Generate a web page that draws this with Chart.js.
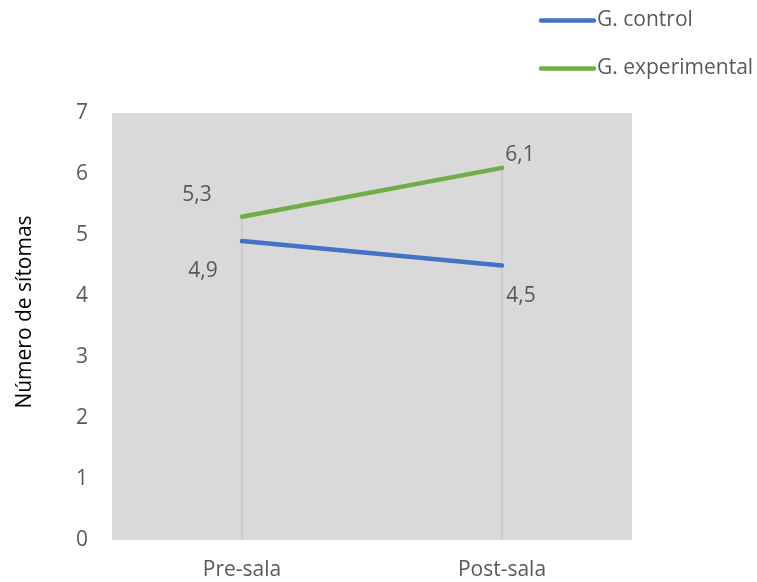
<!DOCTYPE html>
<html>
<head>
<meta charset="utf-8">
<script src="https://cdn.jsdelivr.net/npm/chart.js@4/dist/chart.umd.min.js"></script>
<style>
  html, body { margin: 0; padding: 0; background: #ffffff; }
  #wrap { width: 757px; height: 582px; position: relative; }
</style>
</head>
<body>
<div id="wrap"><canvas id="c" width="757" height="582"></canvas></div>
<script>
// ---- data ----
const categories = ['Pre-sala', 'Post-sala'];
const seriesNames = ['G. control', 'G. experimental'];
const controlValues = [4.9, 4.5];
const experimentalValues = [5.3, 6.1];
const yTicks = [0, 1, 2, 3, 4, 5, 6, 7];
const yTitle = 'Número de sítomas';

// ---- styles ----
const FONT = '"Open Sans", "DejaVu Sans", sans-serif';
const FS = 21;
const TEXT = '#595959';
const colors = ['#4472C4', '#70AD47'];
// label offsets (dx, dy) per dataset per point, in pixels
const labelOffsets = [
  [[-39, 30], [19, 31]],
  [[-45, -22], [18, -13]]
];

const bgPlugin = {
  id: 'plotBg',
  beforeDraw(chart) {
    const { ctx, chartArea: a } = chart;
    ctx.save();
    ctx.fillStyle = '#D9D9D9';
    ctx.fillRect(a.left, a.top, a.right - a.left, a.bottom - a.top);
    ctx.restore();
  }
};

const dropLines = {
  id: 'dropLines',
  beforeDatasetsDraw(chart) {
    const { ctx, chartArea: a, scales } = chart;
    ctx.save();
    ctx.strokeStyle = '#C8C8C8';
    ctx.lineWidth = 1.5;
    categories.forEach((c, i) => {
      const maxV = Math.max(...chart.data.datasets.map(d => d.data[i]));
      const x = scales.x.getPixelForValue(i);
      const y = scales.y.getPixelForValue(maxV);
      ctx.beginPath();
      ctx.moveTo(x, y);
      ctx.lineTo(x, a.bottom);
      ctx.stroke();
    });
    ctx.restore();
  }
};

const dataLabels = {
  id: 'dataLabels',
  afterDatasetsDraw(chart) {
    const { ctx } = chart;
    ctx.save();
    ctx.font = FS + 'px ' + FONT;
    ctx.fillStyle = TEXT;
    ctx.textAlign = 'center';
    ctx.textBaseline = 'middle';
    chart.data.datasets.forEach((ds, di) => {
      const meta = chart.getDatasetMeta(di);
      meta.data.forEach((pt, i) => {
        const off = labelOffsets[di][i];
        const txt = String(ds.data[i]).replace('.', ',');
        ctx.fillText(txt, pt.x + off[0], pt.y + off[1]);
      });
    });
    ctx.restore();
  }
};

const yTitlePlugin = {
  id: 'yTitle',
  afterDraw(chart) {
    const { ctx } = chart;
    ctx.save();
    ctx.font = FS + 'px ' + FONT;
    ctx.fillStyle = '#000000';
    ctx.textAlign = 'center';
    ctx.textBaseline = 'middle';
    ctx.translate(25, 312);
    ctx.rotate(-Math.PI / 2);
    ctx.fillText(yTitle, 0, 0);
    ctx.restore();
  }
};

const legendPlugin = {
  id: 'customLegend',
  afterDraw(chart) {
    const { ctx } = chart;
    ctx.save();
    ctx.font = FS + 'px ' + FONT;
    ctx.textBaseline = 'middle';
    ctx.textAlign = 'left';
    chart.data.datasets.forEach((ds, i) => {
      const y = 20.5 + i * 48;
      ctx.strokeStyle = ds.borderColor;
      ctx.lineWidth = 4.5;
      ctx.lineCap = 'round';
      ctx.beginPath();
      ctx.moveTo(541, y);
      ctx.lineTo(594, y);
      ctx.stroke();
      ctx.fillStyle = TEXT;
      ctx.fillText(ds.label, 597, y);
    });
    ctx.restore();
  }
};

new Chart(document.getElementById('c'), {
  type: 'line',
  data: {
    labels: categories,
    datasets: [
      { label: seriesNames[0], data: controlValues, borderColor: colors[0], backgroundColor: colors[0], borderWidth: 4.5, borderCapStyle: 'round', pointRadius: 0, tension: 0 },
      { label: seriesNames[1], data: experimentalValues, borderColor: colors[1], backgroundColor: colors[1], borderWidth: 4.5, borderCapStyle: 'round', pointRadius: 0, tension: 0 }
    ]
  },
  options: {
    responsive: false,
    animation: false,
    devicePixelRatio: 1,
    layout: { padding: { top: 113, right: 125, bottom: 0, left: 0 } },
    plugins: { legend: { display: false }, tooltip: { enabled: false } },
    scales: {
      x: {
        offset: true,
        grid: { display: false, drawTicks: false },
        border: { display: false },
        ticks: { color: TEXT, font: { family: FONT, size: FS }, padding: 17, maxRotation: 0 },
        afterFit(s) { s.height = 42; }
      },
      y: {
        min: 0, max: 7,
        grid: { display: false, drawTicks: false },
        border: { display: false },
        afterBuildTicks(s) { s.ticks = yTicks.map(v => ({ value: v })); },
        ticks: { color: TEXT, font: { family: FONT, size: FS }, padding: 24 },
        title: { display: false },
        afterFit(s) { s.width = 112; }
      }
    }
  },
  plugins: [bgPlugin, dropLines, dataLabels, yTitlePlugin, legendPlugin]
});
</script>
</body>
</html>
